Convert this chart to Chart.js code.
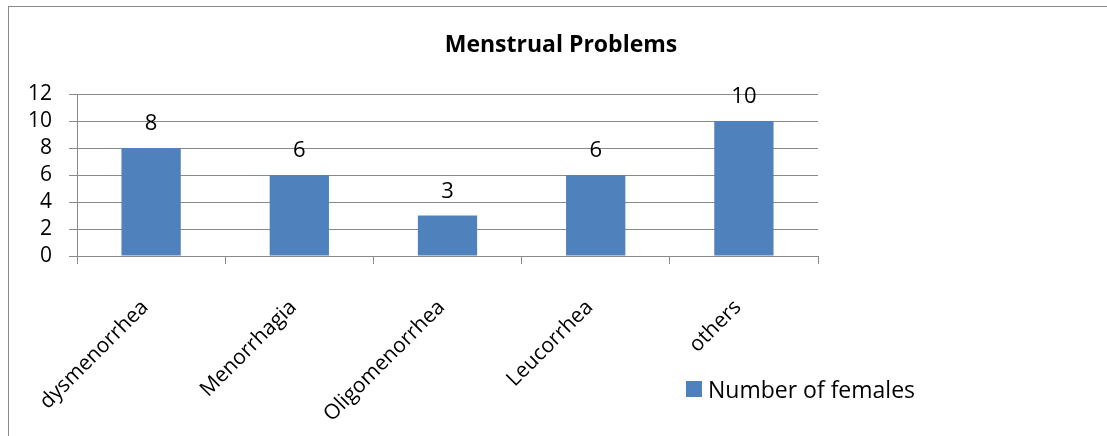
<!DOCTYPE html>
<html>
<head>
<meta charset="utf-8">
<script src="https://cdn.jsdelivr.net/npm/chart.js@4.4.1/dist/chart.umd.min.js"></script>
<style>
  body { margin: 0; width: 1107px; height: 436px; overflow: hidden; background: #fff; position: relative; font-family: "Open Sans", sans-serif; }
  .frame { position: absolute; left: 8px; top: 6px; width: 1200px; height: 600px; border-left: 1px solid #8a8a8a; border-top: 1px solid #8a8a8a; }
  #chart { position: absolute; left: 0; top: 0; }
  .chartTitle { position: absolute; left: 361px; width: 400px; top: 27px; text-align: center; font-weight: bold; font-size: 23px; color: #000; }
  .legend { position: absolute; left: 686px; top: 373px; display: flex; align-items: center; font-size: 23px; color: #000; }
  .legendBox { width: 16px; height: 16px; margin-right: 6px; }
</style>
</head>
<body>
<div class="frame"></div>
<canvas id="chart" width="1107" height="436"></canvas>
<div class="chartTitle">Menstrual Problems</div>
<div class="legend"></div>
<script>
var categories = ["dysmenorrhea", "Menorrhagia", "Oligomenorrhea", "Leucorrhea", "others"];
var females = [8, 6, 3, 6, 10];
var yMin = 0, yMax = 12, yStep = 2;
var seriesName = "Number of females";
var barColor = "#4F81BD";
var gridColor = "#8a8a8a";

Chart.defaults.font.family = "'Open Sans', sans-serif";
Chart.defaults.color = "#000";

// value labels above the bars
const valueLabels = {
  id: "valueLabels",
  afterDatasetsDraw(chart) {
    const ctx = chart.ctx;
    ctx.save();
    ctx.font = "22px 'Open Sans'";
    ctx.fillStyle = "#000";
    ctx.textAlign = "center";
    ctx.textBaseline = "alphabetic";
    chart.getDatasetMeta(0).data.forEach((bar, index) => {
      ctx.fillText(chart.data.datasets[0].data[index], bar.x, bar.y - 18);
    });
    ctx.restore();
  }
};

const chart = new Chart(document.getElementById("chart"), {
  type: "bar",
  data: {
    labels: categories,
    datasets: [{
      label: seriesName,
      data: females,
      backgroundColor: barColor,
      borderWidth: 0,
      categoryPercentage: 1,
      barPercentage: 0.4
    }]
  },
  options: {
    responsive: false,
    animation: false,
    devicePixelRatio: 1,
    layout: {
      padding: { left: 11, right: 289, top: 94, bottom: 8 }
    },
    plugins: {
      legend: { display: false },
      title: { display: false },
      tooltip: { enabled: false }
    },
    scales: {
      x: {
        afterFit(scale) {
          scale.height = 172;
        },
        grid: { display: true, drawOnChartArea: false, drawTicks: true, tickLength: 8, color: gridColor, offset: true },
        border: { display: true, color: gridColor },
        ticks: { font: { size: 21 }, color: "#000", minRotation: 45, maxRotation: 45, padding: 31, labelOffset: -6, autoSkip: false }
      },
      y: {
        min: yMin,
        max: yMax,
        grid: { color: gridColor, tickLength: 8 },
        border: { display: true, color: gridColor },
        ticks: { stepSize: yStep, autoSkip: false, font: { size: 21 }, color: "#000", padding: 17 }
      }
    }
  },
  plugins: [valueLabels]
});

// legend built from the dataset
const legendEl = document.querySelector(".legend");
chart.data.datasets.forEach((ds) => {
  legendEl.innerHTML += `<div class="legendBox" style="background:${ds.backgroundColor}"></div><span>${ds.label}</span>`;
});
</script>
</body>
</html>
